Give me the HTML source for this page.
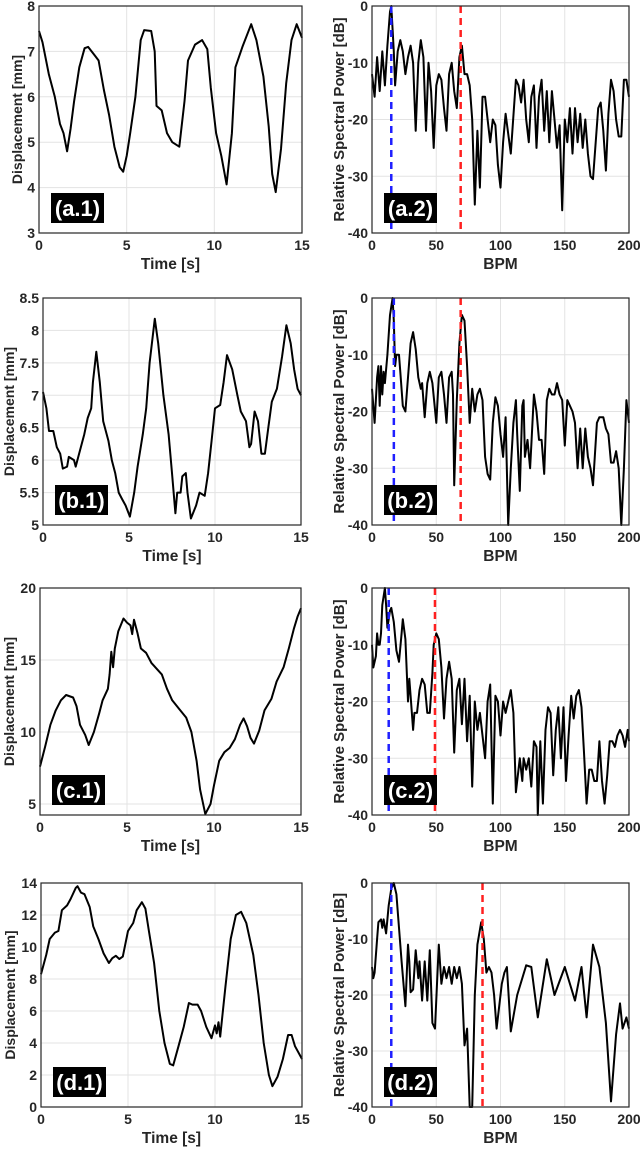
<!DOCTYPE html>
<html><head><meta charset="utf-8"><style>
html,body{margin:0;padding:0;background:#fff;}
svg{display:block;font-family:"Liberation Sans",Arial,sans-serif;}
</style></head><body>
<svg id="fig" width="640" height="1151" viewBox="0 0 640 1151"></svg>
<script>
// ---- data ----
const tA = [0,0.2,0.56,0.9,1.2,1.4,1.6,1.8,2.0,2.3,2.6,2.8,3.2,3.4,3.7,4.0,4.3,4.6,4.8,5.0,5.2,5.5,5.8,6.0,6.4,6.6,6.7,7.0,7.3,7.6,8.0,8.3,8.5,8.9,9.3,9.6,9.8,10.1,10.4,10.7,11.0,11.2,11.6,12.1,12.4,12.8,13.1,13.3,13.5,13.8,14.1,14.4,14.7,15];
const dA = [7.45,7.2,6.5,6.0,5.4,5.2,4.8,5.3,5.9,6.65,7.07,7.1,6.9,6.8,6.15,5.6,4.9,4.45,4.35,4.7,5.2,6.0,7.25,7.47,7.45,7.0,5.8,5.7,5.2,5.0,4.9,5.9,6.8,7.15,7.25,7.05,6.2,5.2,4.7,4.07,5.2,6.65,7.1,7.6,7.25,6.45,5.35,4.3,3.9,4.85,6.3,7.25,7.6,7.3];
const fA = [0,2,4,6,8,10,12,14,15,17,18,20,22,24,26,28,30,32,34,36,38,40,42,44,46,48,50,52,54,56,58,60,62,64,66,68,70,72,74,76,78,80,82,84,86,88,90,92,94,96,98,100,102,104,108,112,114,116,118,120,122,124,126,128,130,132,134,136,138,140,142,144,146,148,150,152,154,156,158,160,162,164,166,168,170,172,176,178,180,182,184,186,188,190,192,194,196,198,200];
const pA = [-12,-16,-9,-15,-8,-14,-7,-1,0,-8,-14,-8,-6,-8,-12,-9,-7,-10,-22,-10,-6,-9,-22,-10,-15,-25,-14,-12,-13,-18,-22,-12,-10,-15,-18,-9,-7,-12,-12,-14,-20,-35,-22,-32,-16,-16,-20,-24,-20,-21,-28,-32,-24,-19,-26,-13,-14,-17,-13,-20,-24,-16,-14,-25,-16,-13,-22,-15,-24,-15,-20,-25,-21,-36,-20,-24,-18,-26,-18,-24,-19,-25,-20,-26,-30,-30.5,-18,-17,-22,-29,-19,-13,-15,-20,-23,-23,-13,-13,-16];

const tB = [0,0.2,0.35,0.6,0.8,1.0,1.15,1.4,1.5,1.8,1.9,2.1,2.4,2.6,2.8,2.9,3.1,3.3,3.5,3.8,4.0,4.2,4.4,4.6,4.8,5.05,5.3,5.5,5.8,6.0,6.2,6.5,6.7,7.0,7.3,7.5,7.7,7.8,8.0,8.1,8.3,8.4,8.6,8.9,9.1,9.4,9.6,9.8,10.0,10.3,10.5,10.7,11.0,11.3,11.5,11.8,12.0,12.1,12.3,12.5,12.7,12.9,13.1,13.3,13.6,13.9,14.15,14.4,14.6,14.8,15];
const dB = [7.05,6.8,6.45,6.45,6.2,6.1,5.87,5.9,6.05,6.0,5.9,6.1,6.4,6.65,6.8,7.2,7.67,7.2,6.6,6.3,6.0,5.8,5.5,5.4,5.3,5.13,5.5,5.9,6.4,6.8,7.5,8.18,7.8,7.0,6.4,5.8,5.18,5.5,5.5,5.75,5.8,5.5,5.1,5.3,5.5,5.45,5.8,6.3,6.8,6.85,7.2,7.62,7.4,7.0,6.75,6.6,6.2,6.25,6.75,6.6,6.1,6.1,6.5,6.9,7.1,7.6,8.08,7.8,7.4,7.1,7.0];
const fB = [0,2,4,5,6,7,8,9,10,12,14,16,17,18,19,21,22,24,26,28,30,32,34,36,38,39,41,43,45,47,50,52,54,56,58,60,62,63,64,66,68,70,72,74,76,78,80,82,84,86,88,90,92,94,96,98,100,102,104,106,108,110,112,113,115,117,118,119,121,123,124,126,128,130,132,134,136,138,140,142,144,146,148,150,152,154,156,158,160,162,164,166,168,170,172,175,177,180,182,184,186,188,190,192,194,196,198,200];
const pB = [-16,-22,-14,-12,-19,-12,-17,-13,-15,-10,-3,0,-4,-12,-10,-10,-13,-19,-20,-14,-8,-6,-9,-14,-16,-15,-21,-15,-13,-15,-22,-14,-13,-17,-22,-14,-13,-17,-33,-18,-8,-3,-4,-12,-22,-16,-20,-17,-16,-18,-28,-31,-32,-22,-17.5,-19,-24,-28,-21,-40,-30,-22,-18,-24,-34,-19,-18,-28,-25,-30,-26,-17,-20,-25,-25,-31,-18,-16,-17,-17,-15,-17,-18,-26,-18,-19,-20,-22,-30,-23,-30,-23,-28,-30,-33,-22,-21,-21,-23,-24,-29,-29,-27,-30,-40,-30,-18,-22];

const tC = [0,0.3,0.6,0.9,1.2,1.5,1.9,2.1,2.3,2.6,2.8,3.1,3.4,3.6,3.9,4.0,4.1,4.2,4.3,4.5,4.8,5.0,5.2,5.3,5.4,5.6,5.8,6.1,6.4,6.7,7.0,7.3,7.6,8.0,8.4,8.7,9.0,9.2,9.5,9.8,10.0,10.3,10.6,10.9,11.2,11.5,11.7,11.9,12.1,12.3,12.6,12.9,13.3,13.6,14.0,14.3,14.6,14.8,15];
const dC = [7.6,9.0,10.5,11.5,12.2,12.57,12.4,11.8,10.5,9.8,9.1,10,11.3,12.2,13.0,14.0,15.57,14.5,15.8,17.0,17.88,17.6,17.4,16.8,17.8,16.9,15.8,15.5,14.8,14.4,14.0,13.0,12.2,11.6,11.0,10.0,8.0,6.0,4.3,5.0,6.3,8.0,8.6,8.9,9.5,10.5,10.95,10.4,9.6,9.2,10.1,11.5,12.3,13.5,14.5,15.8,17.2,18.0,18.6];
const fC = [0,1,3,4,5,6,7,8,10,11,12,14,15,17,19,21,23,24,26,28,29,30,32,33,35,37,39,41,43,45,47,48,50,52,54,56,58,60,62,64,66,68,70,72,74,76,78,80,82,84,86,88,90,92,94,96,98,100,102,104,106,108,110,112,115,117,118,120,122,124,126,128,129,131,133,135,137,139,141,143,145,147,149,151,153,155,157,159,161,163,165,167,169,171,173,175,177,179,181,183,185,187,189,191,193,195,197,199,200];
const pC = [-10,-14,-12,-8,-10,-10,-8,-3,0,-3,-7,-4,-3.5,-6,-11,-13,-8,-5.5,-9,-20,-16,-19,-25,-22,-22,-18,-16,-17,-22,-22,-15,-10,-8,-9,-14,-23,-16,-13,-16,-29,-18,-16,-24,-16,-27,-19,-35,-20,-25,-22,-26,-30,-20,-17,-38,-19,-20,-26,-20,-22,-20,-18,-22,-36,-30,-34,-30,-32,-30,-35,-27,-28,-40,-27,-38,-25,-21,-22,-33,-25,-21,-30,-21,-34,-26,-19,-23,-19,-18,-21,-29,-38,-32,-32,-34,-34,-27,-34,-38,-33,-27,-27,-28,-26,-25,-26,-28,-25,-27];

const tD = [0,0.3,0.5,0.8,1.0,1.2,1.5,1.7,2.0,2.1,2.3,2.5,2.8,3.0,3.3,3.6,3.9,4.1,4.3,4.5,4.7,5.0,5.3,5.5,5.8,6.0,6.2,6.5,6.8,7.1,7.4,7.6,7.9,8.2,8.5,8.7,9.0,9.2,9.5,9.8,10.0,10.1,10.2,10.3,10.6,10.9,11.2,11.5,11.8,12.2,12.5,12.8,13.1,13.3,13.6,13.9,14.2,14.4,14.6,15];
const dD = [8.3,9.5,10.5,10.9,11.0,12.3,12.6,13.0,13.7,13.8,13.4,13.3,12.5,11.3,10.5,9.6,9.0,9.3,9.45,9.25,9.4,11.0,11.5,12.3,12.8,12.4,11.0,9.0,6.0,4.0,2.7,2.6,3.8,5.0,6.5,6.4,6.4,6.0,5.0,4.3,5.1,4.6,5.3,4.4,7.5,10.5,12.0,12.2,11.5,9.5,7.0,4.0,2.0,1.3,1.9,3.0,4.5,4.5,3.8,3.0];
const fD = [0,1,2,4,5,7,8,9,11,13,15,17,19,21,23,26,28,29,30,32,34,36,37,39,41,43,45,47,49,51,52,54,56,58,60,62,64,66,68,70,72,74,76,78,80,82,85,87,89,91,93,95,97,99,101,103,105,108,113,120,124,129,136,142,150,158,163,167,172,177,182,186,190,193,195,198,200];
const pD = [-15,-17,-16,-10,-7,-6.5,-8,-6.5,-9,-4,-1,0,-2,-8,-14,-22,-11,-14,-19.5,-19,-12,-17,-14,-21,-14,-21,-12,-25,-26,-16,-11,-18,-15,-17,-15,-18,-15,-17,-15,-18,-29,-26,-40,-40,-20,-11,-7,-10,-16,-15,-16,-20,-26,-22,-18,-16,-15,-26.5,-20,-14.7,-15,-24,-13.6,-20,-15,-21,-15,-24,-11,-15,-25,-39,-27,-21.5,-26,-24,-26];

const rows = ['a','b','c','d'];
const leftT = [tA,tB,tC,tD], leftD = [dA,dB,dC,dD];
const rightF = [fA,fB,fC,fD], rightP = [pA,pB,pC,pD];
const yMin = [3,5,4.24,0], yMax = [8,8.5,20,14];
const yTicks = [[3,4,5,6,7,8],[5,5.5,6,6.5,7,7.5,8,8.5],[5,10,15,20],[0,2,4,6,8,10,12,14]];
const tTicks = [0,5,10,15];
const fTicks = [0,50,100,150,200];
const pTicks = [-40,-30,-20,-10,0];
const blueBPM = [15,17,13,15];
const redBPM = [69,69,49,86];

// ---- layout ----
const tops = [6,298,588,883], bots = [233,525,815,1107];
const Lx = [[39,302],[43,301],[40,301],[41,302]];
const Rx = [372,629];
const lOff = [17,29,26,26];

const NS = 'http://www.w3.org/2000/svg';
const svg = document.getElementById('fig');
function mk(tag, attrs, parent){ const e=document.createElementNS(NS,tag); for(const k in attrs) e.setAttribute(k,attrs[k]); (parent||svg).appendChild(e); return e; }
function fmt(v){ return String(v); }

function axes(id, x0,x1,y0,y1, xmin,xmax,ymin,ymax, xt,yt, xs,ys, xlabel,ylabel, tag, vlines, yoff, yfs){
  const g = mk('g',{});
  
  
  const X = v => x0 + (v-xmin)/(xmax-xmin)*(x1-x0);
  const Y = v => y1 - (v-ymin)/(ymax-ymin)*(y1-y0);
  mk('rect',{x:x0,y:y0,width:x1-x0,height:y1-y0,fill:'#fff'},g);
  xt.forEach(v=>{ const l=mk('line',{x1:X(v),x2:X(v),y1:y0,y2:y1,stroke:'#e3e3e3','stroke-width':1},g);
     
    const t=mk('text',{x:X(v),y:y1+17,'text-anchor':'middle','font-size':14,'font-weight':'bold',fill:'#262626'},g); t.textContent=fmt(v);
     
  });
  yt.forEach(v=>{ const l=mk('line',{x1:x0,x2:x1,y1:Y(v),y2:Y(v),stroke:'#e3e3e3','stroke-width':1},g);
     
    const t=mk('text',{x:x0-4,y:Y(v)+5,'text-anchor':'end','font-size':14,'font-weight':'bold',fill:'#262626'},g); t.textContent=fmt(v);
     
  });
  const pts = xs.map((v,i)=>X(v).toFixed(1)+','+Y(ys[i]).toFixed(1)).join(' ');
  const line = mk('polyline',{points:pts,fill:'none',stroke:'#000','stroke-width':2,'stroke-linejoin':'round'},g);
  
  
  (vlines||[]).forEach(([v,c])=>{ const l=mk('line',{x1:X(v),x2:X(v),y1:y0,y2:y1,stroke:c,'stroke-width':2.5,'stroke-dasharray':'7,5'},g);
      });
  const bx = mk('rect',{x:x0+12,y:y1-40,width:53,height:30,fill:'#000'},g);
   
  const tt = mk('text',{x:x0+38.5,y:y1-17,'text-anchor':'middle','font-size':22,'font-weight':'bold',fill:'#fff'},g); tt.textContent=tag;
   
  mk('rect',{x:x0,y:y0,width:x1-x0,height:y1-y0,fill:'none',stroke:'#262626','stroke-width':1.2},g);
  const xl = mk('text',{x:(x0+x1)/2,y:y1+36,'text-anchor':'middle','font-size':15.5,'font-weight':'bold',fill:'#262626'},g); xl.textContent=xlabel;
   
  const yx = x0 - yoff, yc=(y0+y1)/2;
  const yl = mk('text',{x:yx,y:yc,'text-anchor':'middle','font-size':yfs,'font-weight':'bold',fill:'#262626',transform:`rotate(-90 ${yx} ${yc})`},g); yl.textContent=ylabel;
   
}

rows.forEach((r,i)=>{
  axes('displacement-plot-'+r, Lx[i][0],Lx[i][1],tops[i],bots[i], 0,15,yMin[i],yMax[i], tTicks,yTicks[i], leftT[i],leftD[i], 'Time [s]','Displacement [mm]','('+r+'.1)', null, lOff[i], 14);
  axes('spectrum-plot-'+r, Rx[0],Rx[1],tops[i],bots[i], 0,200,-40,0, fTicks,pTicks, rightF[i],rightP[i], 'BPM','Relative Spectral Power [dB]','('+r+'.2)', [[blueBPM[i],'#1f1fff'],[redBPM[i],'#ff2020']], 28, 15);
});
</script>
</body></html>
